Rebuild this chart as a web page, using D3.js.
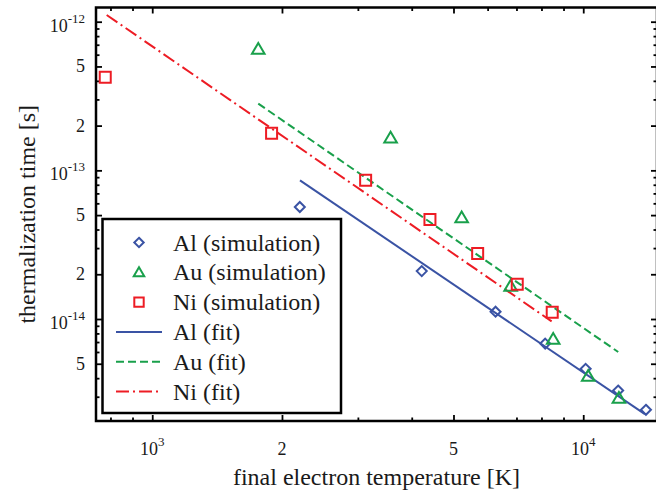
<!DOCTYPE html>
<html>
<head>
<meta charset="utf-8">
<script src="https://cdn.jsdelivr.net/npm/d3@7"></script>
<style>
  html, body { margin: 0; padding: 0; background: #fff; }
  svg { display: block; }
</style>
</head>
<body>
<svg id="chart" width="656" height="491"></svg>
<script>
// Thermalization time vs. final electron temperature (log-log)

// Simulation results
const alT   = [2200, 4220, 6260, 8160, 10130, 12050, 13980];
const alTau = [5.67e-14, 2.10e-14, 1.12e-14, 6.83e-15, 4.62e-15, 3.30e-15, 2.45e-15];

const auT   = [1762, 3573, 5223, 6785, 8517, 10270, 12100];
const auTau = [6.56e-13, 1.66e-13, 4.82e-14, 1.67e-14, 7.34e-15, 4.14e-15, 2.94e-15];

const niT   = [778, 1892, 3127, 4409, 5689, 7029, 8473];
const niTau = [4.23e-13, 1.78e-13, 8.57e-14, 4.67e-14, 2.76e-14, 1.71e-14, 1.11e-14];

// Power-law fits (end points of each fitted line)
const alFitT   = [2202, 13900];
const alFitTau = [8.56e-14, 2.29e-15];
const auFitT   = [1762, 12055];
const auFitTau = [2.81e-13, 6.0e-15];
const niFitT   = [784, 8446];
const niFitTau = [1.11e-12, 9.64e-15];

// Axis ticks and labels
const xMajor = [1000, 2000, 5000, 10000];
const xMinor = [800, 900, 3000, 4000, 6000, 7000, 8000, 9000];
const xTickLabels = ["10^3", "2", "5", "10^4"];

const yMajor = [5e-15, 1e-14, 2e-14, 5e-14, 1e-13, 2e-13, 5e-13, 1e-12];
const yMinor = [3e-15, 4e-15, 6e-15, 7e-15, 8e-15, 9e-15,
                3e-14, 4e-14, 6e-14, 7e-14, 8e-14, 9e-14,
                3e-13, 4e-13, 6e-13, 7e-13, 8e-13, 9e-13];
const yTickLabels = ["5", "10^-14", "2", "5", "10^-13", "2", "5", "10^-12"];

const legendLabels = ["Al (simulation)", "Au (simulation)", "Ni (simulation)",
                      "Al (fit)", "Au (fit)", "Ni (fit)"];

const xDomain = [740.5, 14830];
const yDomain = [2.06e-15, 1.246e-12];

// ---- layout & styling ----
const FONT = "'Liberation Serif', 'Times New Roman', serif";
const TEXT_COLOR = "#1a1a1a";
const plot = { left: 96, right: 657, top: 7.5, bottom: 421 };
const colors = { al: "#3a53a4", au: "#19a04b", ni: "#ed1c24" };

const svg = d3.select("#chart");

const x = d3.scaleLog().domain(xDomain).range([plot.left, plot.right]);
const y = d3.scaleLog().domain(yDomain).range([plot.bottom, plot.top]);

// ---- axes (ticks pointing inward on all four sides) ----
function tickAxis(gen, scale, values, size, transform) {
  const g = svg.append("g")
    .attr("transform", transform)
    .call(gen(scale).tickValues(values).tickSize(size).tickSizeOuter(0).tickFormat(""));
  g.select(".domain").remove();
  g.selectAll(".tick line").attr("stroke", "#000").attr("stroke-width", 1.8);
  return g;
}
tickAxis(d3.axisBottom, x, xMajor, -6, `translate(0,${plot.bottom})`);
tickAxis(d3.axisBottom, x, xMinor, -3.5, `translate(0,${plot.bottom})`);
tickAxis(d3.axisTop, x, xMajor, -6, `translate(0,${plot.top})`);
tickAxis(d3.axisTop, x, xMinor, -3.5, `translate(0,${plot.top})`);
tickAxis(d3.axisLeft, y, yMajor, -6, `translate(${plot.left},0)`);
tickAxis(d3.axisLeft, y, yMinor, -3.5, `translate(${plot.left},0)`);
tickAxis(d3.axisRight, y, yMajor, -6, `translate(${plot.right},0)`);
tickAxis(d3.axisRight, y, yMinor, -3.5, `translate(${plot.right},0)`);

// frame
svg.append("rect")
  .attr("x", plot.left).attr("y", plot.top)
  .attr("width", plot.right - plot.left).attr("height", plot.bottom - plot.top)
  .attr("fill", "none").attr("stroke", "#000").attr("stroke-width", 2.5);

// tick labels with superscript exponents ("10^n")
function powerLabel(sel, text) {
  const parts = text.split("^");
  sel.append("tspan").text(parts[0]);
  if (parts.length > 1) {
    sel.append("tspan").style("font-size", "13px").attr("dy", -9).text(parts[1]);
  }
}

function addText(parent) {
  return parent.append("text")
    .style("font-family", FONT)
    .attr("fill", TEXT_COLOR);
}

xMajor.forEach((v, i) => {
  const t = addText(svg)
    .attr("x", x(v)).attr("y", 455)
    .attr("text-anchor", "middle").style("font-size", "18px");
  powerLabel(t, xTickLabels[i]);
});

yMajor.forEach((v, i) => {
  const isPow = yTickLabels[i].includes("^");
  const t = addText(svg)
    .attr("x", 85).attr("y", y(v) + (isPow ? 10 : 6))
    .attr("text-anchor", "end").style("font-size", "18px");
  powerLabel(t, yTickLabels[i]);
});

// axis titles
addText(svg)
  .attr("x", (plot.left + plot.right) / 2).attr("y", 485)
  .attr("text-anchor", "middle").style("font-size", "24px")
  .text("final electron temperature [K]");

addText(svg)
  .attr("transform", `translate(35,${(plot.top + plot.bottom) / 2}) rotate(-90)`)
  .attr("text-anchor", "middle").style("font-size", "24px")
  .text("thermalization time [s]");

// ---- fit lines ----
const line = d3.line().x(d => x(d[0])).y(d => y(d[1]));
const fits = [
  { T: alFitT, tau: alFitTau, color: colors.al, dash: null },
  { T: auFitT, tau: auFitTau, color: colors.au, dash: "8,4" },
  { T: niFitT, tau: niFitTau, color: colors.ni, dash: "13,4,2,4" }
];
fits.forEach(f => {
  svg.append("path")
    .datum(f.T.map((t, i) => [t, f.tau[i]]))
    .attr("d", line)
    .attr("fill", "none")
    .attr("stroke", f.color)
    .attr("stroke-width", 2)
    .attr("stroke-dasharray", f.dash);
});

// ---- markers ----
function markerPath(shape, s) {
  if (shape === "diamond") return `M0,${-s}L${s},0L0,${s}L${-s},0Z`;
  if (shape === "triangle") return `M0,${-s}L${s * 1.05},${s * 0.8}L${-s * 1.05},${s * 0.8}Z`;
  return `M${-s},${-s}H${s}V${s}H${-s}Z`;
}

const series = [
  { T: alT, tau: alTau, color: colors.al, shape: "diamond", size: 5 },
  { T: auT, tau: auTau, color: colors.au, shape: "triangle", size: 6 },
  { T: niT, tau: niTau, color: colors.ni, shape: "square", size: 5.5 }
];
series.forEach(s => {
  svg.append("g").selectAll("path")
    .data(s.T.map((t, i) => [t, s.tau[i]]))
    .join("path")
    .attr("transform", d => `translate(${x(d[0])},${y(d[1])})`)
    .attr("d", markerPath(s.shape, s.size))
    .attr("fill", "none")
    .attr("stroke", s.color)
    .attr("stroke-width", 2);
});

// ---- legend ----
const leg = svg.append("g");
leg.append("rect")
  .attr("x", 102.5).attr("y", 219).attr("width", 238.5).attr("height", 194)
  .attr("fill", "#fff").attr("stroke", "#000").attr("stroke-width", 2.5);

const rowY0 = 242.5, rowStep = 29.8;
legendLabels.forEach((label, i) => {
  const yy = rowY0 + i * rowStep;
  if (i < 3) {
    const s = series[i];
    leg.append("path")
      .attr("transform", `translate(139,${yy})`)
      .attr("d", markerPath(s.shape, s.shape === "triangle" ? 5 : 4.7))
      .attr("fill", "none").attr("stroke", s.color).attr("stroke-width", 2);
  } else {
    const f = fits[i - 3];
    leg.append("line")
      .attr("x1", 116).attr("x2", 162).attr("y1", yy).attr("y2", yy)
      .attr("stroke", f.color).attr("stroke-width", 2)
      .attr("stroke-dasharray", f.dash);
  }
  addText(leg)
    .attr("x", 173).attr("y", yy + 8)
    .style("font-size", "24px")
    .text(label);
});
</script>
</body>
</html>
